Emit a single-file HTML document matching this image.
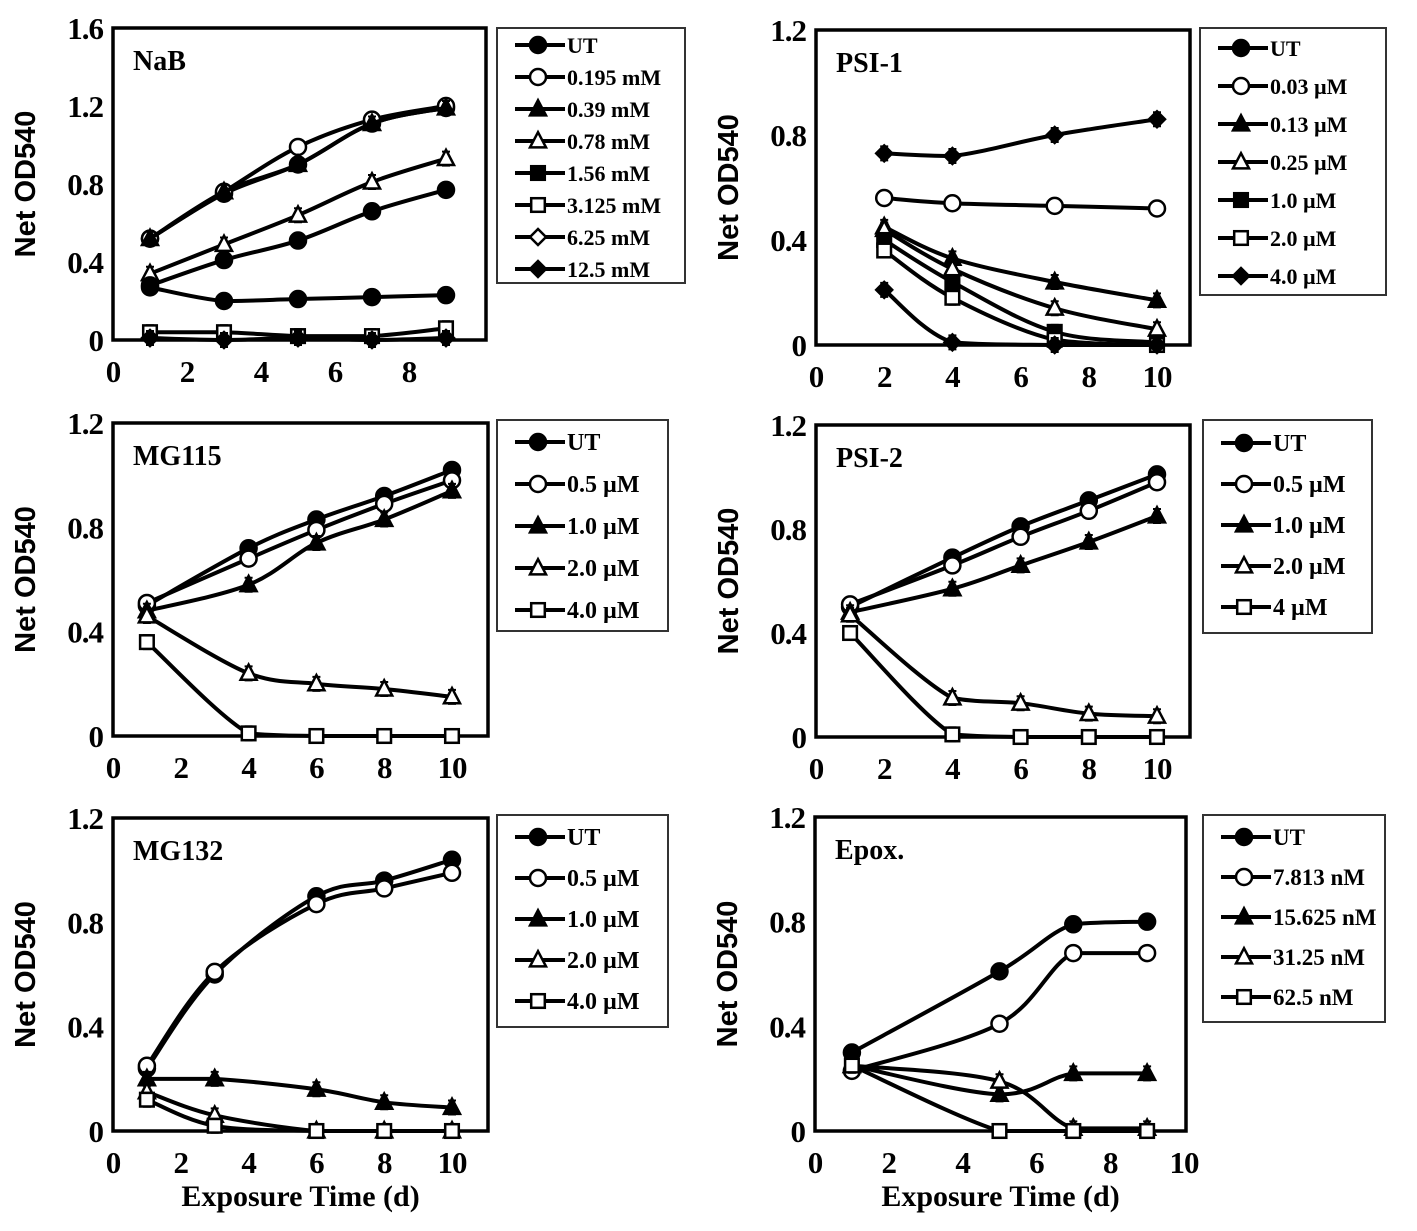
<!DOCTYPE html>
<html><head><meta charset="utf-8"><style>
body{margin:0;background:#fff;}
svg{display:block;font-family:"Liberation Serif",serif;font-weight:bold;}
</style></head><body>
<svg id="fig" width="1417" height="1231" viewBox="0 0 1417 1231"></svg>
<script>
// ---- data ----
const nabX=[1,3,5,7,9];
const nabNames=["UT","0.195 mM","0.39 mM","0.78 mM","1.56 mM","3.125 mM","6.25 mM","12.5 mM"];
const nabUT=[0.52,0.75,0.90,1.11,1.19];
const nab0195=[0.52,0.76,0.99,1.13,1.20];
const nab039=[0.52,0.76,0.90,1.11,1.19];
const nab078=[0.34,0.49,0.64,0.81,0.93];
const nab156=[0.28,0.41,0.51,0.66,0.77];
const nab3125=[0.27,0.20,0.21,0.22,0.23];
const nab625=[0.04,0.04,0.02,0.02,0.06];
const nab125=[0.01,0.00,0.01,0.00,0.01];

const psi1X=[2,4,7,10];
const psi1Names=["UT","0.03 µM","0.13 µM","0.25 µM","1.0 µM","2.0 µM","4.0 µM"];
const psi1UT=[0.73,0.72,0.80,0.86];
const psi1a=[0.56,0.54,0.53,0.52];
const psi1b=[0.45,0.33,0.24,0.17];
const psi1c=[0.44,0.29,0.14,0.06];
const psi1d=[0.40,0.24,0.05,0.01];
const psi1e=[0.36,0.18,0.02,0.00];
const psi1f=[0.21,0.01,0.00,0.00];

const mg115X=[1,4,6,8,10];
const mg115Names=["UT","0.5 µM","1.0 µM","2.0 µM","4.0 µM"];
const mg115UT=[0.50,0.72,0.83,0.92,1.02];
const mg115a=[0.51,0.68,0.79,0.89,0.98];
const mg115b=[0.48,0.58,0.74,0.83,0.94];
const mg115c=[0.46,0.24,0.20,0.18,0.15];
const mg115d=[0.36,0.01,0.00,0.00,0.00];

const psi2X=[1,4,6,8,10];
const psi2Names=["UT","0.5 µM","1.0 µM","2.0 µM","4 µM"];
const psi2UT=[0.50,0.69,0.81,0.91,1.01];
const psi2a=[0.51,0.66,0.77,0.87,0.98];
const psi2b=[0.48,0.57,0.66,0.75,0.85];
const psi2c=[0.47,0.15,0.13,0.09,0.08];
const psi2d=[0.40,0.01,0.00,0.00,0.00];

const mg132X=[1,3,6,8,10];
const mg132Names=["UT","0.5 µM","1.0 µM","2.0 µM","4.0 µM"];
const mg132UT=[0.24,0.60,0.90,0.96,1.04];
const mg132a=[0.25,0.61,0.87,0.93,0.99];
const mg132b=[0.20,0.20,0.16,0.11,0.09];
const mg132c=[0.15,0.06,0.00,0.00,0.00];
const mg132d=[0.12,0.02,0.00,0.00,0.00];

const epoxX=[1,5,7,9];
const epoxNames=["UT","7.813 nM","15.625 nM","31.25 nM","62.5 nM"];
const epoxUT=[0.30,0.61,0.79,0.80];
const epoxa=[0.23,0.41,0.68,0.68];
const epoxb=[0.25,0.14,0.22,0.22];
const epoxc=[0.25,0.19,0.01,0.01];
const epoxd=[0.25,0.00,0.00,0.00];

const yTicks16=["0","0.4","0.8","1.2","1.6"];
const yTicks12=["0","0.4","0.8","1.2"];
const xTicks8=["0","2","4","6","8"];
const xTicks10=["0","2","4","6","8","10"];

// ---- drawing ----
const NS="http://www.w3.org/2000/svg";
const svg=document.getElementById('fig');
function mk(tag,attrs,parent){const e=document.createElementNS(NS,tag);for(const k in attrs)e.setAttribute(k,attrs[k]);(parent||svg).appendChild(e);return e;}

function marker(g,type,cx,cy,r){
  let e;
  const fill=type.startsWith('f')?'#000':'#fff';
  const shape=type.slice(1);
  if(shape==='c'){e=mk('circle',{cx,cy,r,fill,stroke:'#000','stroke-width':2.5},g);}
  else if(shape==='t'){e=mk('polygon',{points:`${cx},${cy-r*1.1} ${cx-r},${cy+r*0.8} ${cx+r},${cy+r*0.8}`,fill,stroke:'#000','stroke-width':2.5},g);}
  else if(shape==='s'){e=mk('rect',{x:cx-r*0.85,y:cy-r*0.85,width:r*1.7,height:r*1.7,fill,stroke:'#000','stroke-width':2.5},g);}
  else {e=mk('polygon',{points:`${cx},${cy-r} ${cx+r},${cy} ${cx},${cy+r} ${cx-r},${cy}`,fill,stroke:'#000','stroke-width':2.5},g);}
  
  
}

function clamp(v,a,b){return Math.max(Math.min(a,b),Math.min(Math.max(a,b),v));}
function smoothPath(pts){
  let d=`M${pts[0][0]},${pts[0][1]}`;
  for(let i=0;i<pts.length-1;i++){
    const p0=pts[Math.max(i-1,0)],p1=pts[i],p2=pts[i+1],p3=pts[Math.min(i+2,pts.length-1)];
    const t=0.17;
    const c1=[p1[0]+(p2[0]-p0[0])*t,clamp(p1[1]+(p2[1]-p0[1])*t,p1[1],p2[1])];
    const c2=[p2[0]-(p3[0]-p1[0])*t,clamp(p2[1]-(p3[1]-p1[1])*t,p1[1],p2[1])];
    d+=` C${c1[0]},${c1[1]} ${c2[0]},${c2[1]} ${p2[0]},${p2[1]}`;
  }
  return d;
}

function panel(o){
  const g=mk('g',{});
  
  
  const sx=v=>o.x0+(v/10)*(o.x10-o.x0);
  const sy=v=>o.yb-(v/o.ymax)*(o.yb-o.yt);
  const box=mk('rect',{x:o.x0,y:o.yt,width:o.xr-o.x0,height:o.yb-o.yt,fill:'none',stroke:'#000','stroke-width':3.5},g);
  
  
  o.yt_labels.forEach((lab,i)=>{
    const v=i*0.4, y=sy(v);
    const t=mk('text',{x:o.x0-10,y:y+11,'text-anchor':'end','font-size':31,'letter-spacing':-1},g);
    t.textContent=lab;
    
    
  });
  o.xt_labels.forEach((lab,i)=>{
    const v=i*2, x=sx(v);
    const t=mk('text',{x:x,y:o.yb+42,'text-anchor':'middle','font-size':31,'letter-spacing':-1},g);
    t.textContent=lab;
    
    
  });
  const cy=(o.yt+o.yb)/2;
  const yt=mk('text',{x:0,y:0,'text-anchor':'middle','font-size':29,transform:`translate(${o.x0-78},${cy}) rotate(-90)`,'font-family':'Liberation Sans, sans-serif'},g);
  yt.textContent='Net OD540';
  
  
  const ti=mk('text',{x:o.x0+20,y:o.yt+42,'font-size':28},g);
  ti.textContent=o.title;
  
  
  if(o.xtitle){
    const xt=mk('text',{x:(o.x0+o.xr)/2,y:o.yb+75,'text-anchor':'middle','font-size':30},g);
    xt.textContent='Exposure Time (d)';
    
    
  }
  o.series.forEach((s,si)=>{
    const pts=o.xs.map((xv,i)=>[sx(xv),sy(s[i])]);
    const p=mk('path',{d:smoothPath(pts),fill:'none',stroke:'#000','stroke-width':4},g);
    
    
    pts.forEach(([px,py])=>{
      const eb=mk('path',{d:`M${px},${py-7}V${py+7}M${px-4},${py-7}H${px+4}M${px-4},${py+7}H${px+4}`,stroke:'#000','stroke-width':2,fill:'none'},g);
      
      
      marker(g,o.markers[si],px,py,8);
    });
  });
  const lg=mk('g',{},g);
  
  
  mk('rect',{x:o.lx,y:o.ly,width:o.lw,height:o.lh,fill:'#fff',stroke:'#333','stroke-width':2},lg);
  o.names.forEach((n,i)=>{
    const y=o.ly+o.l0+i*o.ls;
    const e=mk('g',{},lg);
    
    
    mk('line',{x1:o.lx+18,x2:o.lx+68,y1:y,y2:y,stroke:'#000','stroke-width':4},e);
    marker(e,o.lmarkers[i],o.lx+41,y,8);
    const t=mk('text',{x:o.lx+70,y:y+8,'font-size':o.lf},e);
    t.textContent=n;
  });
}

panel({id:'nab',title:'NaB',x0:113,x10:483,xr:486,yt:28,yb:340,ymax:1.6,yt_labels:yTicks16,xt_labels:xTicks8,xs:nabX,
  series:[nabUT,nab0195,nab039,nab078,nab156,nab3125,nab625,nab125],
  markers:['fc','oc','ft','ot','fc','fc','os','fd'],
  lmarkers:['fc','oc','ft','ot','fs','os','od','fd'],
  names:nabNames,lx:497,ly:28,lw:188,lh:255,l0:17,ls:32,lf:22});
panel({id:'psi1',title:'PSI-1',x0:816,x10:1157,xr:1190,yt:30,yb:345,ymax:1.2,yt_labels:yTicks12,xt_labels:xTicks10,xs:psi1X,
  series:[psi1UT,psi1a,psi1b,psi1c,psi1d,psi1e,psi1f],
  markers:['fd','oc','ft','ot','fs','os','fd'],
  lmarkers:['fc','oc','ft','ot','fs','os','fd'],
  names:psi1Names,lx:1200,ly:28,lw:186,lh:267,l0:20,ls:38,lf:22});
panel({id:'mg115',title:'MG115',x0:113,x10:452,xr:488,yt:423,yb:736,ymax:1.2,yt_labels:yTicks12,xt_labels:xTicks10,xs:mg115X,
  series:[mg115UT,mg115a,mg115b,mg115c,mg115d],
  markers:['fc','oc','ft','ot','os'],lmarkers:['fc','oc','ft','ot','os'],
  names:mg115Names,lx:497,ly:420,lw:171,lh:211,l0:22,ls:42,lf:24});
panel({id:'psi2',title:'PSI-2',x0:816,x10:1157,xr:1190,yt:425,yb:737,ymax:1.2,yt_labels:yTicks12,xt_labels:xTicks10,xs:psi2X,
  series:[psi2UT,psi2a,psi2b,psi2c,psi2d],
  markers:['fc','oc','ft','ot','os'],lmarkers:['fc','oc','ft','ot','os'],
  names:psi2Names,lx:1203,ly:420,lw:169,lh:213,l0:23,ls:41,lf:24});
panel({id:'mg132',title:'MG132',x0:113,x10:452,xr:488,yt:818,yb:1131,ymax:1.2,yt_labels:yTicks12,xt_labels:xTicks10,xs:mg132X,xtitle:true,
  series:[mg132UT,mg132a,mg132b,mg132c,mg132d],
  markers:['fc','oc','ft','ot','os'],lmarkers:['fc','oc','ft','ot','os'],
  names:mg132Names,lx:497,ly:815,lw:171,lh:212,l0:22,ls:41,lf:24});
panel({id:'epox',title:'Epox.',x0:815,x10:1184,xr:1186,yt:817,yb:1131,ymax:1.2,yt_labels:yTicks12,xt_labels:xTicks10,xs:epoxX,xtitle:true,
  series:[epoxUT,epoxa,epoxb,epoxc,epoxd],
  markers:['fc','oc','ft','ot','os'],lmarkers:['fc','oc','ft','ot','os'],
  names:epoxNames,lx:1203,ly:815,lw:182,lh:207,l0:22,ls:40,lf:23});
</script>
</body></html>
